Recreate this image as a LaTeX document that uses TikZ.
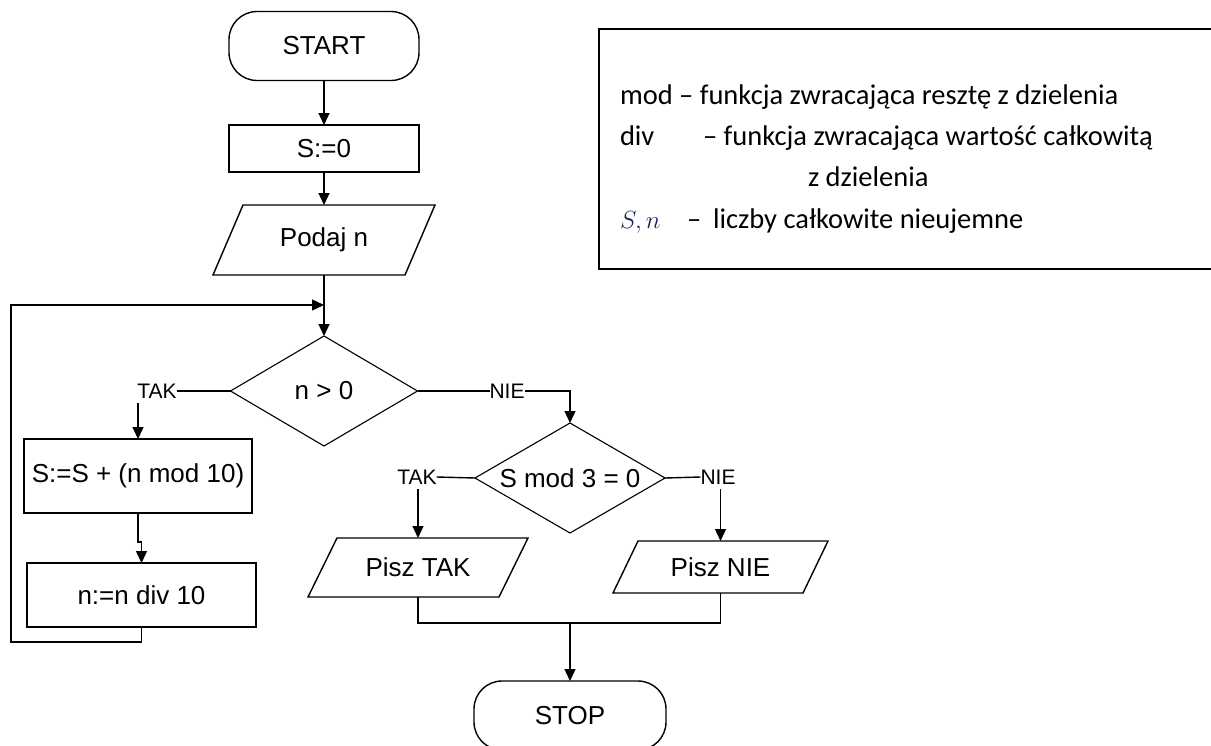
\documentclass[tikz,border=0pt]{standalone}
\usepackage{fontspec}
\setmainfont{Liberation Sans}
\newfontfamily\legendfont{Carlito}
\usetikzlibrary{shapes.geometric,arrows.meta}
\definecolor{mathblue}{RGB}{25,35,85}
\newcommand\paraout[2]{\draw ([xshift=#2]#1.north west) -- ([xshift=#2]#1.north east) -- ([xshift=-#2]#1.south east) -- ([xshift=-#2]#1.south west) -- cycle;}
\begin{document}
\begin{tikzpicture}[x=1pt,y=-1pt,
  line width=1.4pt,
  every node/.style={inner sep=0pt, outer sep=0pt},
  chart/.style={font=\fontsize{26}{30}\selectfont},
  term/.style={chart, draw, rectangle, rounded corners=28pt, minimum width=190pt, minimum height=69pt},
  proc/.style={chart, draw, rectangle},
  io/.style={chart, rectangle},
  dec/.style={chart, draw, diamond, aspect=1.73, line width=1.1pt},
  lbl/.style={font=\fontsize{21}{24}\selectfont},
  leg/.style={font=\legendfont\fontsize{28.5}{32}\selectfont, anchor=base west},
  arr/.style={-{Triangle[width=11pt,length=12pt]}},
]
\useasboundingbox (0,0) rectangle (1211,745);
\clip (0,0) rectangle (1211,745);

% legend
\node[draw, line width=2pt, minimum width=640pt, minimum height=240pt, anchor=north west] (legend) at (599,29) {};
\node[leg] (l1) at (620,104) {mod – funkcja zwracająca resztę z dzielenia};
\node[leg] (l2a) at (620,145) {div};
\node[leg] (l2b) at (703,145) {– funkcja zwracająca wartość całkowitą};
\node[leg] (l3) at (808,186) {z dzielenia};
\node[leg, text=mathblue, font=\fontsize{23}{26}\selectfont] (l4a) at (620,228) {$S,n$};
\node[leg] (l4b) at (687,228) {–};
\node[leg] (l4c) at (713,228) {liczby całkowite nieujemne};

% flowchart
\node[term] (start) at (324,46) {START};
\node[proc, minimum width=190pt, minimum height=47pt] (s0) at (324,148.5) {S:=0};
\node[io, minimum width=192pt, minimum height=70pt] (pn) at (324,240) {Podaj n};
\paraout{pn}{15pt}
\node[dec, minimum width=187pt, minimum height=110pt] (d1) at (324,391) {n > 0};
\node[lbl] (tak1) at (157,391) {TAK};
\node[proc, minimum width=228pt, minimum height=74pt] (b1) at (138,476) {S:=S + (n mod 10)};
\node[proc, minimum width=229pt, minimum height=64pt] (b2) at (141.5,595) {n:=n div 10};
\node[lbl] (nie1) at (507,391) {NIE};
\node[dec, minimum width=190pt, minimum height=110pt] (d2) at (570,478) {S mod 3 = 0};
\node[lbl] (tak2) at (417,477) {TAK};
\node[lbl] (nie2) at (718,477) {NIE};
\node[io, minimum width=191pt, minimum height=59pt] (pt) at (418,567.5) {Pisz TAK};
\paraout{pt}{14.5pt}
\node[io, minimum width=190pt, minimum height=52pt] (pni) at (720.5,567) {Pisz NIE};
\paraout{pni}{12.5pt}
\node[term, minimum width=192pt] (stop) at (570,715.5) {STOP};

\coordinate (j1) at (324,305);
\coordinate (lt) at (11,305);
\coordinate (t1s) at ([yshift=-5pt]tak1.south);
\coordinate (t2s) at ([yshift=-5pt]tak2.south);
\coordinate (n2s) at ([yshift=-5pt]nie2.south);
\coordinate (m) at (570,623);

\draw[arr] (start) -- (s0);
\draw[arr] (s0) -- (pn);
\draw[arr] (pn) -- (d1);
\draw (d1.west) -- (tak1.east);
\draw[arr] (t1s -| b1.north) -- (b1.north);
\draw[arr] (b1.south) -- ++(0,29) -| (b2.north);
\draw[arr] (b2.south) -- ++(0,15) -| (lt) -- (j1);
\draw (d1.east) -- (nie1.west);
\draw[arr] (nie1.east) -| (d2.north);
\draw (d2.west) -- (tak2.east);
\draw[arr] (t2s -| pt.north) -- (pt.north);
\draw (d2.east) -- (nie2.west);
\draw[arr] (n2s -| pni.north) -- (pni.north);
\draw (pt.south) |- (m);
\draw (pni.south) |- (m);
\draw[arr] (m) -- (stop.north);
\end{tikzpicture}
\end{document}
